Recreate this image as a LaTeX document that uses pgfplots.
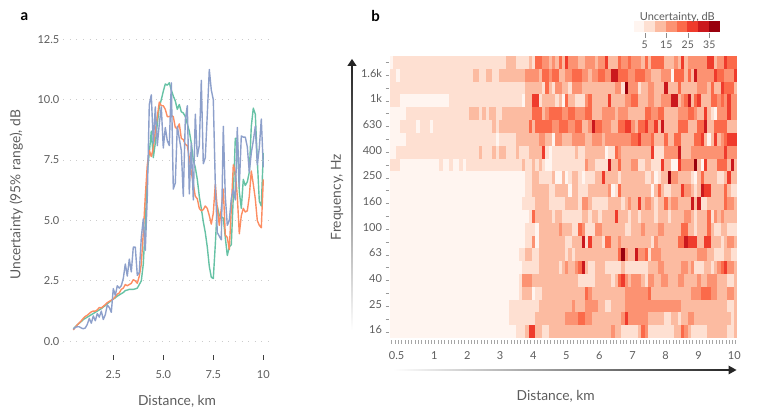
\documentclass[border=0pt]{standalone}
\usepackage{fontspec}
\setmainfont{Lato}
\usepackage{pgfplots}
\usepackage{pgfplotstable}
\pgfplotsset{compat=1.18}

\definecolor{h1}{HTML}{FFF5F0}
\definecolor{h2}{HTML}{FEE0D2}
\definecolor{h3}{HTML}{FCBBA1}
\definecolor{h4}{HTML}{FC9272}
\definecolor{h5}{HTML}{FB6A4A}
\definecolor{h6}{HTML}{EF3B2C}
\definecolor{h7}{HTML}{CB181D}
\definecolor{h8}{HTML}{99000D}
\definecolor{lgreen}{HTML}{66C2A5}
\definecolor{lorange}{HTML}{FC8D62}
\definecolor{lblue}{HTML}{8DA0CB}
\definecolor{txt}{gray}{0.36}

% one heatmap cell, 1pt = 1px of the reference
\pgfdeclareplotmark{cell}{%
  \pgfpathrectangle{\pgfqpoint{-1.8pt}{-6.55pt}}{\pgfqpoint{3.6pt}{13.1pt}}%
  \pgfusepathqfill}

% panel a: distance, three curves
\pgfplotstableread{
x g o b
0.5 0.52 0.47 0.50
0.6 0.60 0.58 0.58
0.7 0.68 0.68 0.60
0.8 0.75 0.76 0.60
0.9 0.82 0.85 0.55
1.0 0.90 0.95 0.52
1.1 0.95 1.03 0.55
1.2 1.00 1.08 0.70
1.3 1.05 1.15 0.95
1.4 1.10 1.22 0.75
1.5 1.15 1.25 1.05
1.6 1.20 1.25 0.85
1.7 1.25 1.30 1.15
1.8 1.30 1.40 1.00
1.9 1.35 1.38 1.25
2.0 1.42 1.45 0.90
2.1 1.48 1.52 1.10
2.2 1.55 1.60 1.50
2.3 1.62 1.65 1.40
2.4 1.68 1.70 1.20
2.5 1.75 1.75 2.18
2.6 1.80 1.85 1.90
2.7 1.87 1.95 2.30
2.8 1.92 2.00 2.20
2.9 1.97 2.15 2.30
3.0 2.02 2.20 2.60
3.1 2.10 2.35 3.20
3.2 2.12 2.30 2.70
3.3 2.15 2.35 3.40
3.4 2.15 2.40 2.87
3.5 2.15 2.55 3.90
3.6 2.17 2.50 3.90
3.7 2.20 2.40 2.73
3.8 2.35 2.70 2.85
3.9 2.50 3.20 4.30
4.0 3.20 4.50 5.07
4.1 4.80 6.00 3.76
4.2 7.00 7.30 6.00
4.3 7.80 7.90 9.80
4.4 8.70 7.65 10.20
4.5 7.60 8.00 8.20
4.6 8.20 8.70 9.70
4.7 9.00 9.30 8.10
4.8 9.70 9.90 9.00
4.9 10.00 9.75 9.70
5.0 10.35 9.75 8.00
5.1 10.65 9.60 8.85
5.2 10.60 9.30 8.30
5.3 10.70 9.30 8.10
5.4 10.40 9.35 10.70
5.5 10.15 9.30 6.30
5.6 9.95 8.85 6.55
5.7 9.60 8.80 8.90
5.8 9.80 9.00 8.40
5.9 9.50 8.40 7.90
6.0 9.45 8.35 6.00
6.1 9.30 8.15 9.15
6.2 9.00 8.10 9.75
6.3 8.70 7.60 6.10
6.4 8.20 7.00 8.20
6.5 7.50 6.50 5.85
6.6 7.20 6.00 9.40
6.7 6.70 5.90 7.65
6.8 6.00 5.50 8.10
6.9 5.50 5.40 10.80
7.0 4.95 5.45 7.35
7.1 4.50 5.60 7.60
7.2 3.90 5.50 9.40
7.3 3.10 5.20 11.25
7.4 2.65 4.85 10.40
7.5 2.60 5.30 10.00
7.6 4.00 6.50 6.50
7.7 5.60 5.50 4.50
7.8 5.20 4.80 4.35
7.9 5.15 5.50 4.20
8.0 5.10 6.30 8.90
8.1 4.30 4.40 6.00
8.2 3.55 4.30 4.80
8.3 3.90 3.80 5.00
8.4 4.00 5.50 5.90
8.5 6.00 7.30 6.30
8.6 8.40 7.00 5.85
8.7 8.40 6.00 8.85
8.8 6.20 4.45 6.40
8.9 5.50 5.20 8.50
9.0 6.70 5.50 8.45
9.1 6.45 5.35 8.45
9.2 6.60 5.40 8.05
9.3 7.00 6.00 7.00
9.4 8.90 7.05 7.80
9.5 9.65 6.50 8.30
9.6 9.40 5.90 8.90
9.7 7.50 5.00 7.30
9.8 5.80 4.80 8.00
9.9 5.60 4.70 9.20
10.0 7.80 6.70 7.20
}\curves

% panel b: colour class of each cell, top row (2k) first, left to right
\pgfplotstableread[header=false]{
1 2 2 2 2 2 2 2 2 2  2 2 2 2 2 2 2 2 2 2  2 2 2 2 2 2 2 2 2 2  2 2 2 2 2 3 3 3 2 2  2 2 3 2 5 5 4 4 3 4  3 5 3 6 4 4 4 3 3 4  4 4 3 4 4 6 3 3 3 5  4 4 5 4 4 4 3 5 3 5  5 5 5 3 3 3 4 3 6 3  4 4 4 4 4 4 6 6 3 4  4 6 5 5 5
2 2 1 2 2 2 2 2 2 2  2 2 2 2 2 2 2 2 2 2  2 2 2 2 2 3 3 2 2 3  3 2 2 3 3 3 3 3 3 3  3 4 4 4 4 3 5 5 4 5  5 3 3 4 4 5 5 5 4 4  3 4 4 5 5 4 4 7 7 5  5 5 4 4 5 5 5 4 4 3  3 3 4 4 4 1 5 5 5 3  5 3 7 4 4 4 4 4 6 5  5 4 4 4 6
2 2 2 2 2 2 2 2 2 2  2 2 2 2 2 2 2 2 2 2  2 2 2 2 2 2 2 2 2 2  2 2 2 2 2 2 2 2 2 2  2 3 3 3 3 3 2 5 3 2  4 4 3 3 2 4 4 4 3 3  3 3 3 3 3 3 3 3 4 4  2 8 4 4 4 2 3 3 4 4  3 3 3 7 3 3 3 5 3 3  3 3 3 4 4 4 3 5 3 3  6 5 5 5 3
2 2 2 1 1 1 1 1 1 1  1 1 1 1 1 1 1 1 2 2  2 2 2 2 2 2 2 2 2 2  2 2 2 2 2 2 2 2 2 2  1 3 3 6 6 2 3 3 3 3  2 3 1 5 3 3 2 2 2 4  5 3 3 3 3 3 6 3 3 3  3 4 4 5 5 3 3 3 4 4  3 3 4 4 4 7 7 3 4 5  7 3 5 6 3 3 3 5 5 4  5 4 6 4 4
1 1 1 1 1 2 2 2 2 2  2 2 2 2 2 2 2 2 2 2  2 2 2 2 3 3 3 2 3 2  3 3 2 2 3 3 3 3 3 3  3 3 3 5 5 5 3 4 5 5  5 5 4 4 5 5 4 4 4 5  5 3 3 3 4 4 4 4 3 4  4 4 3 3 3 3 3 5 5 4  4 5 5 3 3 3 3 4 4 4  5 5 4 3 3 6 3 2 1 4  4 4 6 4 4
1 1 1 2 2 2 2 2 1 2  2 2 1 2 2 2 2 2 2 2  2 2 2 2 2 2 2 2 2 2  2 3 2 3 3 3 3 3 3 3  3 3 5 3 5 5 5 5 5 4  4 5 5 5 4 4 5 5 3 3  4 7 5 5 4 4 4 3 3 5  5 6 6 4 3 5 5 6 4 4  6 3 7 3 3 3 3 5 5 5  3 3 3 5 5 7 3 3 5 5  5 5 3 3 3
1 1 1 1 1 2 2 2 2 2  2 2 2 2 2 2 2 2 2 2  2 2 2 2 2 2 2 2 2 2  2 2 1 2 2 2 2 2 3 3  3 3 3 3 3 4 4 3 3 1  4 4 3 3 3 4 4 4 4 3  3 4 4 4 3 4 4 4 4 4  4 4 4 5 5 6 4 4 4 5  3 3 3 5 3 3 5 5 3 3  3 3 5 5 6 3 1 3 6 3  4 5 6 6 6
1 1 2 2 2 2 2 2 2 2  2 2 2 2 2 2 2 2 2 2  2 2 2 2 2 2 2 3 2 2  2 3 2 3 3 2 2 2 3 2  2 2 3 3 3 3 6 2 1 2  2 2 2 2 2 2 3 2 2 3  3 3 3 3 3 1 2 2 5 4  3 3 3 3 3 3 3 3 3 6  2 2 2 4 4 4 4 7 3 3  3 4 4 4 4 4 4 4 4 4  4 6 4 4 4
2 2 2 1 1 1 1 1 1 1  1 1 1 1 1 2 1 1 2 1  1 2 1 2 2 2 2 2 2 2  2 2 2 2 2 2 2 2 2 2  3 2 2 3 2 3 2 1 1 2  2 2 2 2 2 2 2 2 2 4  3 3 2 2 2 2 7 3 3 5  3 3 3 4 4 2 2 3 3 2  2 2 6 3 3 1 1 6 4 4  4 4 8 3 1 6 3 3 3 5  5 5 3 7 3
1 1 1 1 1 1 1 1 1 1  1 1 1 1 1 1 1 1 1 1  1 1 1 1 1 1 1 1 1 1  1 1 1 1 1 1 1 1 1 1  1 2 2 3 3 2 2 2 2 3  1 1 3 1 2 3 3 2 1 2  2 2 3 3 6 3 3 3 3 2  3 3 3 3 3 3 3 2 2 3  1 2 3 3 8 4 4 3 3 3  3 2 1 3 5 3 3 3 3 2  2 3 6 3 3
1 1 1 1 1 1 1 1 1 1  1 1 1 1 1 1 1 1 1 1  1 1 1 1 1 1 1 1 1 1  1 1 1 1 1 1 1 1 1 1  1 2 2 3 3 3 3 3 2 2  3 3 3 3 1 3 3 2 2 2  3 3 3 3 3 3 4 1 2 5  3 3 3 3 3 3 3 3 3 1  3 5 3 2 2 3 3 3 6 4  4 3 2 3 7 6 6 3 3 3  3 5 3 2 2
1 1 1 1 1 1 1 1 1 1  1 1 1 1 1 1 1 1 1 1  1 1 1 1 1 1 1 1 1 1  1 1 1 1 1 1 1 1 1 1  2 2 2 2 3 3 3 3 2 2  2 2 2 3 3 3 3 2 4 4  3 2 2 2 2 2 3 3 3 3  2 3 4 3 3 6 3 4 4 3  2 3 3 5 3 4 4 3 3 3  3 7 3 7 2 2 3 3 3 3  3 5 4 4 3
1 1 1 1 1 1 1 1 1 1  1 1 1 1 1 1 1 1 1 1  1 1 1 1 1 1 1 1 1 1  1 1 1 1 1 1 1 1 1 1  1 1 2 5 3 3 3 3 3 2  3 3 2 2 2 2 2 2 3 3  2 3 3 2 3 3 3 3 6 3  3 3 2 3 3 2 3 3 3 3  2 3 3 3 2 3 3 3 3 4  4 3 2 3 3 3 5 2 4 3  4 3 3 3 3
1 1 1 1 1 1 1 1 1 1  1 1 1 1 1 1 1 1 1 1  1 1 1 1 1 1 1 1 1 1  1 1 1 1 1 1 1 1 1 1  1 2 2 2 1 3 3 3 3 3  3 4 3 3 3 2 2 5 4 2  2 2 4 4 3 3 3 3 3 3  3 2 2 3 3 3 4 3 3 3  3 4 4 3 3 3 3 3 5 5  3 3 2 3 3 3 5 3 2 2  3 3 2 2 2
1 1 1 1 1 1 1 1 1 1  1 1 1 1 1 1 1 1 1 1  1 1 1 1 1 1 1 1 1 1  1 1 1 1 1 1 1 1 1 1  1 2 2 4 1 3 3 3 3 3  3 3 3 2 2 3 3 3 7 2  6 3 3 3 2 5 5 3 3 4  3 3 3 3 3 3 3 3 3 2  4 3 3 3 3 3 3 5 5 7  6 6 6 3 3 6 6 3 3 3  2 3 4 4 3
1 1 1 1 1 1 1 1 1 1  1 1 1 1 1 1 1 1 1 1  1 1 1 1 1 1 1 1 1 1  1 1 1 1 1 1 1 1 1 2  2 3 3 2 2 3 3 3 3 3  3 3 3 2 3 2 3 3 3 3  3 3 3 3 3 3 3 3 3 5  8 4 3 3 7 4 4 5 2 4  4 4 3 3 3 3 3 3 3 3  3 3 3 4 4 4 3 3 2 2  2 3 3 2 2
1 1 1 1 1 1 1 1 1 1  1 1 1 1 1 1 1 1 1 1  1 1 1 1 1 1 1 1 1 1  1 1 1 1 1 1 1 1 1 1  2 2 2 2 2 3 3 3 3 3  3 2 3 4 3 3 4 5 7 3  2 2 3 3 3 2 2 2 2 2  3 2 2 2 2 2 2 2 3 3  3 4 4 3 3 3 3 3 4 4  3 4 2 2 2 3 3 2 3 4  5 6 4 4 3
1 1 1 1 1 1 1 1 1 1  1 1 1 1 1 1 1 1 1 1  1 1 1 1 1 1 1 1 1 1  1 1 1 1 1 1 1 1 1 2  4 4 4 3 3 3 3 3 3 3  3 3 3 3 3 3 3 2 2 2  2 2 3 3 3 3 3 2 3 5  6 4 3 4 4 4 3 2 4 4  3 3 4 4 3 3 3 4 4 3  3 3 3 4 3 3 4 4 4 3  3 3 2 2 3
1 1 1 1 1 1 1 1 1 1  1 1 1 1 1 1 1 1 1 1  1 1 1 1 1 1 1 1 1 1  1 1 1 1 1 1 1 1 1 2  3 3 3 1 2 2 3 3 3 3  3 3 3 3 3 3 3 3 3 5  4 3 3 3 3 3 3 3 3 3  3 4 4 4 4 4 4 4 5 3  3 3 3 3 3 3 3 3 3 3  3 4 4 4 5 5 5 4 4 3  3 3 4 4 3
1 1 1 1 1 1 1 1 1 1  1 1 1 1 1 1 1 1 1 1  1 1 1 1 1 1 1 1 1 1  1 1 1 1 1 1 2 2 2 2  2 2 2 2 2 3 3 3 3 3  3 3 3 3 3 4 3 3 3 4  4 4 4 3 3 2 2 3 3 3  3 4 4 4 4 4 4 4 4 4  4 4 4 4 4 4 4 4 3 3  3 3 3 3 3 3 3 3 3 3  3 3 2 2 3
1 1 1 1 1 1 1 1 1 1  1 1 1 1 1 1 1 1 1 1  1 1 1 1 1 1 1 1 1 1  1 1 1 1 1 1 2 2 2 2  2 2 2 2 3 3 3 3 3 3  3 3 3 4 4 4 4 5 5 4  4 3 3 3 3 3 3 3 3 3  4 6 4 4 4 4 4 4 3 3  3 3 3 2 2 3 3 2 3 3  4 4 3 3 3 3 3 3 3 3  3 3 3 2 3
1 1 1 1 1 1 1 1 1 1  1 1 1 1 1 1 1 1 1 1  1 1 1 1 1 1 1 1 1 1  1 1 1 1 1 1 1 1 2 2  2 3 6 6 3 3 2 2 3 3  3 3 3 3 3 3 3 3 3 3  3 3 3 3 3 3 3 4 3 3  2 2 2 2 2 3 5 4 2 2  2 2 2 2 2 2 3 3 5 4  3 2 2 2 2 2 3 3 3 3  3 3 2 2 3
}\heatraw
\pgfplotstabletranspose\heat{\heatraw}

\begin{document}
\begin{tikzpicture}[x=1pt,y=1pt,every node/.append style={text=txt}]
\path[use as bounding box] (0,0) rectangle (763,411);

% --- panel a ---
\begin{axis}[
  scale only axis, anchor=south west, at={(63.3pt,51pt)},
  width=208.7pt, height=320.7pt,
  xmin=0, xmax=10.435, ymin=-0.774, ymax=12.5,
  clip=false,
  axis line style={draw=none},
  xtick={2.5,5,7.5,10}, xticklabels={2.5,5.0,7.5,10},
  ytick={0,2.5,5,7.5,10,12.5}, yticklabels={0.0,2.5,5.0,7.5,10.0,12.5},
  xtick pos=bottom, ytick pos=left,
  xtick align=inside,
  major tick length=5pt,
  ytick style={draw=none},
  xtick style={black!75,line width=0.6pt},
  ymajorgrids,
  grid style={gray!40,line width=1pt,dash pattern=on 1pt off 5.6pt},
  tick label style={font=\fontsize{11}{13}\selectfont,text=txt},
  xticklabel style={yshift=-7.5pt},
  yticklabel style={xshift=-0.5pt},
  xlabel={Distance, km}, ylabel={Uncertainty (95\% range), dB},
  label style={font=\fontsize{13.8}{15}\selectfont,text=txt},
  xlabel style={at={(rel axis cs:0.545,0)},anchor=center,yshift=-41pt},
  ylabel style={at={(rel axis cs:0,0.515)},anchor=center,yshift=47pt},
  every axis plot/.append style={line width=1.4pt,line join=round},
]
\addplot[lgreen] table[x=x,y=g] {\curves};
\addplot[lorange] table[x=x,y=o] {\curves};
\addplot[lblue] table[x=x,y=b] {\curves};
\end{axis}

% --- panel b ---
\begin{axis}[
  scale only axis, anchor=south west, at={(389pt,67pt)},
  width=348.3pt, height=288pt,
  xmin=-0.3, xmax=105, ymin=-0.444, ymax=22,
  clip=false,
  axis line style={draw=none},
  xtick={0.5,1.5,...,104.5}, xticklabel=\empty,
  ytick={0.5,1.5,...,21.5},
  yticklabels={16,,25,,40,,63,,100,,160,,250,,400,,630,,1k,,1.6k,},
  xtick pos=bottom, ytick pos=left,
  xtick align=inside, ytick align=outside,
  major tick length=3.5pt,
  xtick style={black!35,line width=0.45pt},
  ytick style={black!40,line width=0.7pt},
  extra x ticks={2,13.4,23.4,33.3,43.3,53.3,63.3,73.3,83.3,93.3,104.1},
  extra x tick labels={0.5,1,2,3,4,5,6,7,8,9,10},
  extra x tick style={major tick length=0pt,xticklabel style={yshift=-4.5pt}},
  tick label style={font=\fontsize{11}{13}\selectfont,text=txt},
  yticklabel style={yshift=2pt},
  xlabel={Distance, km}, ylabel={Frequency, Hz},
  label style={font=\fontsize{13.8}{15}\selectfont,text=txt},
  xlabel style={at={(rel axis cs:0.4786,0)},anchor=center,yshift=-52.5pt},
  ylabel style={at={(rel axis cs:0,0.51)},anchor=center,yshift=52pt},
]
\pgfplotsinvokeforeach{0,...,21}{
  \addplot[scatter, only marks, scatter src=explicit symbolic,
    scatter/classes={
      1={mark=cell,h1},2={mark=cell,h2},3={mark=cell,h3},4={mark=cell,h4},
      5={mark=cell,h5},6={mark=cell,h6},7={mark=cell,h7},8={mark=cell,h8}}]
    table[x expr=\coordindex+0.5, y expr=21.5-#1, meta=#1] {\heat};
}
\end{axis}

% --- colour key ---
\begin{axis}[
  scale only axis, anchor=south west, at={(634pt,373pt)},
  width=86pt, height=16pt,
  xmin=0, xmax=40, ymin=-0.65, ymax=1,
  clip=false,
  axis line style={draw=none},
  ytick=\empty,
  xtick={5,15,25,35}, xticklabels={5,15,25,35},
  xtick pos=bottom, xtick align=inside,
  major tick length=5pt,
  xtick style={black!45,line width=0.5pt},
  xticklabel style={yshift=1pt},
  tick label style={font=\fontsize{10.5}{12}\selectfont,text=txt},
  title={Uncertainty, dB},
  title style={font=\fontsize{11}{12}\selectfont,text=txt,
    at={(rel axis cs:0.98,1)},anchor=south east,yshift=-10pt},
]
\addplot[h1,fill=h1,line width=0] coordinates {(0.1,0)(4.9,0)(4.9,1)(0.1,1)} -- cycle;
\addplot[h2,fill=h2,line width=0] coordinates {(5.1,0)(9.9,0)(9.9,1)(5.1,1)} -- cycle;
\addplot[h3,fill=h3,line width=0] coordinates {(10.1,0)(14.9,0)(14.9,1)(10.1,1)} -- cycle;
\addplot[h4,fill=h4,line width=0] coordinates {(15.1,0)(19.9,0)(19.9,1)(15.1,1)} -- cycle;
\addplot[h5,fill=h5,line width=0] coordinates {(20.1,0)(24.9,0)(24.9,1)(20.1,1)} -- cycle;
\addplot[h6,fill=h6,line width=0] coordinates {(25.1,0)(29.9,0)(29.9,1)(25.1,1)} -- cycle;
\addplot[h7,fill=h7,line width=0] coordinates {(30.1,0)(34.9,0)(34.9,1)(30.1,1)} -- cycle;
\addplot[h8,fill=h8,line width=0] coordinates {(35.1,0)(39.9,0)(39.9,1)(35.1,1)} -- cycle;
\end{axis}

% gradient arrows beside panel b
\shade[bottom color=white,top color=black!85] (351.4,81) rectangle (352.6,345);
\fill[black!85] (347.3,345) -- (356.7,345) -- (352,352) -- cycle;
\shade[left color=white,right color=black!85] (393,40.4) rectangle (729,41.6);
\fill[black!85] (728.5,45.5) -- (736.5,41) -- (728.5,36.5) -- cycle;

% panel letters
\node[text=black,font=\bfseries\fontsize{15}{15}\selectfont] at (24.5,394) {a};
\node[text=black,font=\bfseries\fontsize{15}{15}\selectfont] at (375.7,395) {b};
\end{tikzpicture}
\end{document}
